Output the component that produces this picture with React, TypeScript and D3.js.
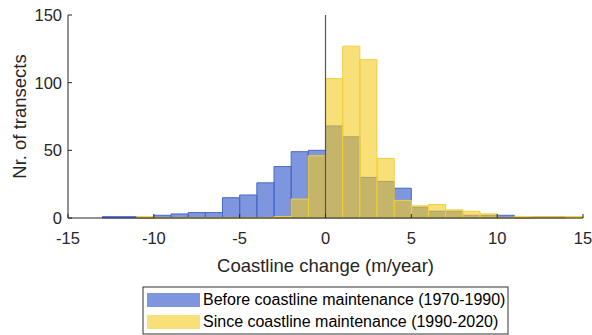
import * as d3 from "d3";
import React from "react";

// histogram bin edges -15 .. 15, bin width 1 m/year
const binStarts = d3.range(-15, 15, 1);

// counts per bin, before coastline maintenance (1970-1990)
const beforeCounts = [
  0, 0, 1, 1, 0, 2, 3, 4, 4, 15, 17, 26, 38, 49, 50,
  68, 60, 30, 27, 22, 8, 5, 5, 2, 2, 2, 0, 1, 1, 0,
];
// counts per bin, since coastline maintenance (1990-2020)
const sinceCounts = [
  0, 0, 0, 0, 1, 0, 0, 0, 0, 0, 0, 0, 1, 14, 46,
  103, 127, 117, 44, 13, 9, 10, 6, 5, 3, 0, 1, 1, 1, 1,
];
// first/last bin index that MATLAB drew (zero bins inside show as a line)
const beforeRange = [2, 28];
const sinceRange = [4, 29];

const xTicks = [-15, -10, -5, 0, 5, 10, 15];
const yTicks = [0, 50, 100, 150];

const series = [
  { name: "Before coastline maintenance (1970-1990)", counts: beforeCounts, range: beforeRange, fill: "#2850c8", edge: "#4a68c8" },
  { name: "Since coastline maintenance (1990-2020)", counts: sinceCounts, range: sinceRange, fill: "#f3ca1e", edge: "#f0d040" },
];

const width = 592;
const height = 335;
const margin = { top: 15, right: 9, bottom: 117, left: 68 };
const font = "Arial, 'Liberation Sans', sans-serif";
const ink = "#262626";

export default function App() {
  const x = d3.scaleLinear().domain([-15, 15]).range([margin.left, width - margin.right]);
  const y = d3.scaleLinear().domain([0, 150]).range([height - margin.bottom, margin.top]);
  const y0 = y(0);

  return (
    <svg width={width} height={height} style={{ position: "absolute", left: 0, top: 0, background: "#fff" }}>
      {/* bars */}
      {series.map((s) => (
        <g key={s.name}>
          {binStarts.map((b, i) => {
            if (i < s.range[0] || i > s.range[1]) return null;
            const x0 = x(b);
            const x1 = x(b + 1);
            const yt = y(s.counts[i]);
            return (
              <path
                key={i}
                d={`M${x0},${y0}V${yt}H${x1}V${y0}Z`}
                fill={s.fill}
                fillOpacity={0.6}
                stroke={s.edge}
                strokeWidth={1}
              />
            );
          })}
        </g>
      ))}

      {/* zero line */}
      <line x1={x(0)} x2={x(0)} y1={y(150)} y2={y0} stroke="#555" strokeWidth={1.2} />

      {/* axes */}
      <line x1={x(-15)} x2={x(15)} y1={y0} y2={y0} stroke={ink} strokeWidth={1} />
      <line x1={x(-15)} x2={x(-15)} y1={y(150)} y2={y0} stroke={ink} strokeWidth={1} />
      {xTicks.map((t) => (
        <g key={t}>
          <line x1={x(t)} x2={x(t)} y1={y0} y2={y0 - 4} stroke={ink} />
          <text x={x(t)} y={y0 + 26} textAnchor="middle" fontFamily={font} fontSize={16.5} fill={ink}>
            {t}
          </text>
        </g>
      ))}
      {yTicks.map((t) => (
        <g key={t}>
          <line x1={x(-15)} x2={x(-15) + 4} y1={y(t)} y2={y(t)} stroke={ink} />
          <text x={x(-15) - 6} y={y(t) + 6} textAnchor="end" fontFamily={font} fontSize={16.5} fill={ink}>
            {t}
          </text>
        </g>
      ))}
      <text x={x(0)} y={272} textAnchor="middle" fontFamily={font} fontSize={18.5} fill={ink}>
        Coastline change (m/year)
      </text>
      <text
        transform={`translate(26,${(y(150) + y0) / 2}) rotate(-90)`}
        textAnchor="middle"
        fontFamily={font}
        fontSize={18.5}
        fill={ink}
      >
        Nr. of transects
      </text>

      {/* legend */}
      <rect x={143} y={287} width={365} height={47} fill="#fff" stroke="#333" strokeWidth={1} />
      {series.map((s, i) => (
        <g key={s.name}>
          <rect x={147} y={293 + i * 22} width={53} height={14} fill={s.fill} fillOpacity={0.6} />
          <text x={203} y={305 + i * 22} fontFamily={font} fontSize={16} fill="#000">
            {s.name}
          </text>
        </g>
      ))}
    </svg>
  );
}
